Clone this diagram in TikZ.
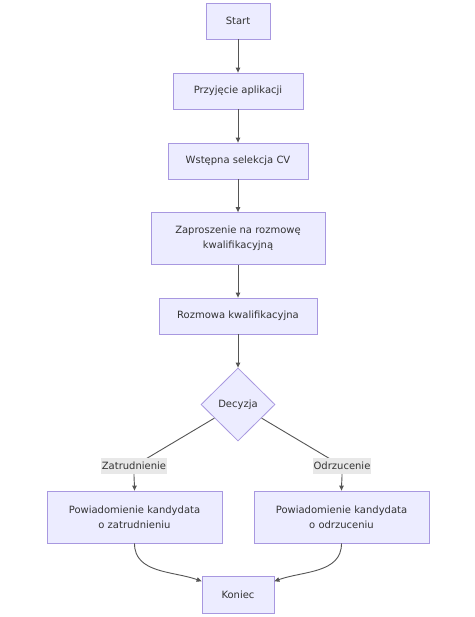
\documentclass[tikz,border=0pt]{standalone}
\usepackage{fontspec}
\setmainfont{DejaVu Sans}
\usetikzlibrary{shapes.geometric,arrows.meta}
\begin{document}
\begin{tikzpicture}[x=1pt, y=-1pt, font=\fontsize{10}{15}\selectfont,
		box/.style={rectangle, draw=nodeborder, fill=nodefill, line width=0.8pt, inner sep=0, align=center, text=textgray},
		lbl/.style={rectangle, fill=lblfill, inner sep=1pt, minimum height=16pt, text=textgray},
		flow/.style={draw=linegray, line width=0.9pt, -{Triangle[length=5pt, width=4.5pt]}}]
		\definecolor{nodefill}{HTML}{ECECFF}
		\definecolor{nodeborder}{HTML}{A898E0}
		\definecolor{lblfill}{HTML}{E8E8E8}
		\definecolor{linegray}{HTML}{555555}
		\definecolor{textgray}{HTML}{333333}
		\useasboundingbox[fill=white] (0,0) rectangle (474,617);
		\node (start) at (238,21) [box, minimum width=64pt, minimum height=36pt] {Start};
		\node (przyjecie) at (238,91) [box, minimum width=130pt, minimum height=36pt] {Przyjęcie aplikacji};
		\node (selekcja) at (238,161) [box, minimum width=140pt, minimum height=36pt] {Wstępna selekcja CV};
		\node (zaproszenie) at (238,238.5) [box, minimum width=174pt, minimum height=52pt] {Zaproszenie na rozmowę\\kwalifikacyjną};
		\node (rozmowa) at (238,316) [box, minimum width=158pt, minimum height=36pt] {Rozmowa kwalifikacyjna};
		\node (decyzja) at (238,404.5) [box, diamond, minimum width=74pt, minimum height=73pt] {Decyzja};
		\node (zatr) at (134.5,517) [box, minimum width=175pt, minimum height=52pt] {Powiadomienie kandydata\\o zatrudnieniu};
		\node (odrz) at (341.5,517) [box, minimum width=175pt, minimum height=52pt] {Powiadomienie kandydata\\o odrzuceniu};
		\node (koniec) at (238,594.5) [box, minimum width=72pt, minimum height=37pt] {Koniec};
		% straight part of the chain
		\draw[flow] (start) -- (przyjecie);
		\draw[flow] (przyjecie) -- (selekcja);
		\draw[flow] (selekcja) -- (zaproszenie);
		\draw[flow] (zaproszenie) -- (rozmowa);
		\draw[flow] (rozmowa) -- (decyzja);
		% branches
		\draw[draw=linegray, line width=0.9pt] (decyzja.210) -- (134,466);
		\draw[draw=linegray, line width=0.9pt] (decyzja.330) -- (342,466);
		\node (lzatr) at (134,466) [lbl] {Zatrudnienie};
		\node (lodrz) at (342,466) [lbl] {Odrzucenie};
		\draw[flow] (lzatr) to[out=-90, in=90] (zatr);
		\draw[flow] (lodrz) to[out=-90, in=90] (odrz);
		\draw[flow] (zatr) to[out=-90, in=160] (koniec.160);
		\draw[flow] (odrz) to[out=-90, in=20] (koniec.20);
	\end{tikzpicture}
\end{document}
